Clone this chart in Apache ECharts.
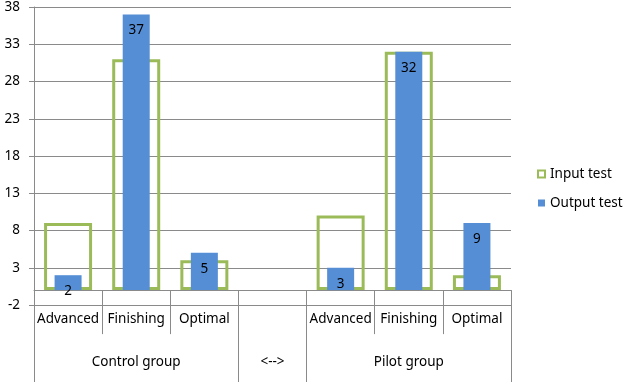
<!DOCTYPE html>
<html><head><meta charset="utf-8">
<script src="https://cdn.jsdelivr.net/npm/echarts@6/dist/echarts.min.js"></script>
<style>html,body{margin:0;padding:0;background:#fff}#c{width:626px;height:382px}</style>
</head><body><div id="c"></div>
<script>
const categories = ['Advanced', 'Finishing', 'Optimal', '', 'Advanced', 'Finishing', 'Optimal'];
const groupLabels = ['', 'Control group', '', '<-->', '', 'Pilot group', ''];
const inputTest = [9, 31, 4, null, 10, 32, 2];
const outputTest = [2, 37, 5, null, 3, 32, 9];
const yTicks = [-2, 3, 8, 13, 18, 23, 28, 33, 38];

const FONT = 'Noto Sans';
const FS = 13.5;
const GRAY = '#8a8a8a';

const chart = echarts.init(document.getElementById('c'), null, {renderer: 'canvas'});
chart.setOption({
  backgroundColor: '#fff',
  animation: false,
  textStyle: {fontFamily: FONT},
  grid: {left: 34, right: 115, top: 7, bottom: 77, containLabel: false, outerBoundsMode: 'none'},
  legend: {
    orient: 'vertical', left: 532, top: 161,
    itemWidth: 7, itemHeight: 7, itemGap: 13,
    textStyle: {fontFamily: FONT, fontSize: FS, color: '#000', lineHeight: 16},
    data: [
      {name: 'Input test', icon: 'rect', itemStyle: {color: '#fff', borderColor: '#9bbb59', borderWidth: 2}},
      {name: 'Output test', icon: 'rect', itemStyle: {color: '#558ed5', borderWidth: 0}}
    ]
  },
  xAxis: [
    {
      type: 'category', data: categories, position: 'bottom',
      axisLine: {show: true, onZero: true, lineStyle: {color: GRAY, width: 1}},
      axisTick: {show: true, interval: 0, length: 44, lineStyle: {color: GRAY, width: 1}},
      axisLabel: {interval: 0, margin: 7, fontFamily: FONT, fontSize: FS, color: '#000', lineHeight: 14},
      splitLine: {show: false}
    },
    {
      type: 'category', data: categories, show: false
    },
    {
      type: 'category', data: groupLabels, position: 'bottom',
      axisLine: {show: false, onZero: false},
      axisTick: {show: true, length: 77, interval: function (i) { return i === 0 || i === 3 || i === 4; }, lineStyle: {color: GRAY, width: 1}},
      axisLabel: {interval: 0, margin: 50, fontFamily: FONT, fontSize: FS, color: '#000', lineHeight: 14},
      splitLine: {show: false}
    }
  ],
  yAxis: {
    type: 'value',
    min: yTicks[0], max: yTicks[yTicks.length - 1], interval: yTicks[1] - yTicks[0],
    axisLine: {show: true, lineStyle: {color: GRAY, width: 1}},
    axisTick: {show: true, length: 5, lineStyle: {color: GRAY, width: 1}},
    axisLabel: {margin: 14, fontFamily: FONT, fontSize: FS, color: '#000'},
    splitLine: {show: true, lineStyle: {color: GRAY, width: 1}}
  },
  series: [
    {
      name: 'Input test', type: 'bar', xAxisIndex: 0, data: inputTest, barWidth: 48,
      itemStyle: {color: 'rgba(255,255,255,0)', borderColor: '#9bbb59', borderWidth: 3}
    },
    {
      name: 'Output test', type: 'bar', xAxisIndex: 1, data: outputTest, barWidth: 27,
      itemStyle: {color: '#558ed5'},
      label: {show: true, position: 'insideTop', distance: 9, fontFamily: FONT, fontSize: FS, color: '#000', lineHeight: 14}
    }
  ]
});
</script>
</body></html>
